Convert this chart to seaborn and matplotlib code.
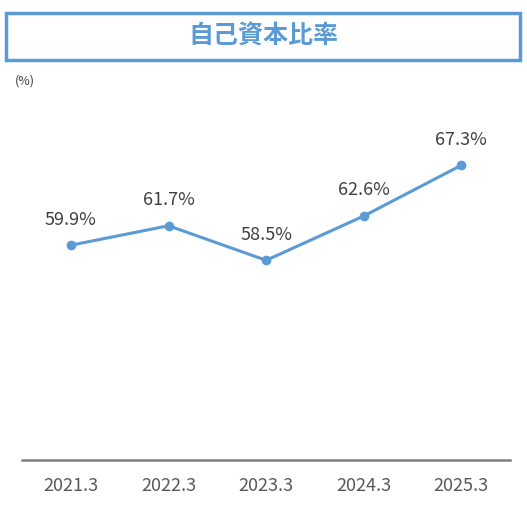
import matplotlib
matplotlib.use("Agg")
import matplotlib.pyplot as plt
import seaborn as sns
import pandas as pd
from matplotlib.patches import Rectangle

years = ["2021.3", "2022.3", "2023.3", "2024.3", "2025.3"]
ratios = [59.9, 61.7, 58.5, 62.6, 67.3]
title = "自己資本比率"

BLUE = "#5B9BD5"

sns.set_theme(style="white")
plt.rcParams["font.family"] = ["Noto Sans CJK JP", "DejaVu Sans"]

df = pd.DataFrame({"year": years, "ratio": ratios})

fig = plt.figure(figsize=(5.27, 5.13), dpi=100)
ax = fig.add_axes([0.042, 0.103, 0.926, 0.737])

sns.lineplot(data=df, x="year", y="ratio", ax=ax, color=BLUE, linewidth=2.2,
             marker="o", markersize=7, markeredgewidth=0, sort=False)

for i, v in enumerate(ratios):
    ax.annotate(f"{v}%", (i, v), xytext=(0, 12), textcoords="offset points",
                ha="center", va="bottom", fontsize=13, color="#404040")

ax.set_xlim(-0.5, 4.5)
ax.set_ylim(40, 75)
ax.set_yticks([])
ax.set_xlabel("")
ax.set_ylabel("")
for s in ["top", "right", "left"]:
    ax.spines[s].set_visible(False)
ax.spines["bottom"].set_color("#7f7f7f")
ax.spines["bottom"].set_linewidth(1.8)
ax.tick_params(axis="x", length=0, labelsize=13, labelcolor="#595959", pad=12)

fig.text(0.028, 0.835, "(%)", fontsize=9, color="#404040")

fig.patches.append(Rectangle((0.011, 0.884), 0.975, 0.09, transform=fig.transFigure,
                             fill=False, edgecolor=BLUE, linewidth=2.5))
fig.text(0.5, 0.929, title, ha="center", va="center", fontsize=18,
         fontweight="bold", color=BLUE)

fig.savefig("out.png", dpi=100)
